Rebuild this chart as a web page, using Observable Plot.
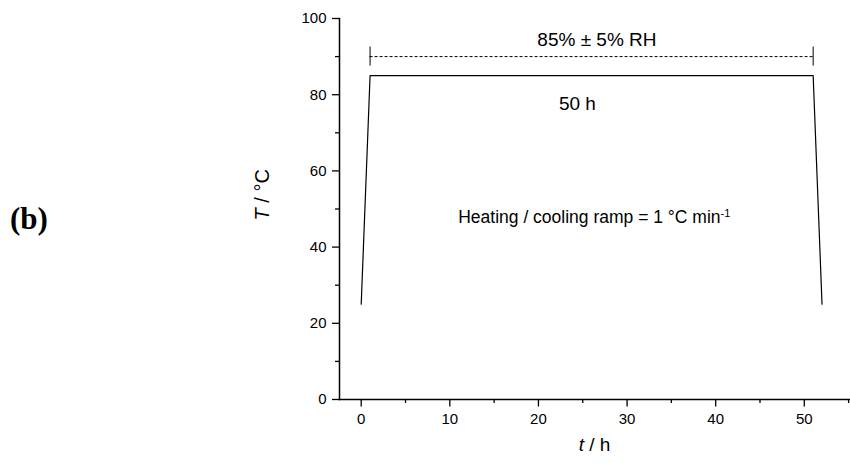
<!DOCTYPE html>
<html><head><meta charset="utf-8">
<script src="https://cdn.jsdelivr.net/npm/d3@7"></script>
<script src="https://cdn.jsdelivr.net/npm/@observablehq/plot@0.6"></script>
<style>
body{margin:0;background:#fff;font-family:"Liberation Sans",Arial,sans-serif}
#wrap{position:relative;width:850px;height:463px}
#panel{position:absolute;left:10px;top:203px;font-family:"Liberation Serif","Times New Roman",serif;font-weight:bold;font-size:31px;line-height:1}
svg text{font-family:"Liberation Sans",Arial,sans-serif}
svg g[aria-label="x-axis tick label"], svg g[aria-label="y-axis tick label"]{font-size:15px !important}
</style>
</head><body><div id="wrap"><div id="panel">(b)</div></div>
<script>
// Temperature profile
const time = [0, 1, 51, 52];
const temperature = [25, 85, 85, 25];
// Relative humidity span
const rhStart = 1, rhEnd = 51, rhLevel = 90, rhCapLow = 87.5, rhCapHigh = 92.5;
// Ticks
const xMajor = [0, 10, 20, 30, 40, 50];
const xMinor = [5, 15, 25, 35, 45, 55];
const yMajor = [0, 20, 40, 60, 80, 100];
const yMinor = [10, 30, 50, 70, 90];
// Annotation texts and their data anchors
const noteText = ["85% ± 5% RH", "50 h", "Heating / cooling ramp = 1 °C min-1"];
const noteT = [26.6, 24.4, 26.3];
const noteTemp = [94.4, 77.5, 47.8];
const noteSize = [19, 19, 17.5];

const profile = time.map((t, i) => ({t, T: temperature[i]}));
const notes = noteText.map((s, i) => ({s, t: noteT[i], T: noteTemp[i], size: noteSize[i]}));

const plot = Plot.plot({
  width: 850, height: 463,
  marginLeft: 339, marginRight: 1, marginTop: 18, marginBottom: 64,
  style: {fontFamily: "Liberation Sans, Arial, sans-serif", fontSize: "15px", color: "#000", background: "#fff"},
  x: {domain: [-2.45, 55.1]},
  y: {domain: [0, 100]},
  marks: [
    Plot.axisX({ticks: xMinor, tickSize: 4, text: null, strokeWidth: 1.3, label: null}),
    Plot.axisX({ticks: xMajor, tickSize: 7.5, tickPadding: 6, strokeWidth: 1.3, fontSize: 15, label: null}),
    Plot.axisY({ticks: yMinor, tickSize: 4, text: null, strokeWidth: 1.3, label: null}),
    Plot.axisY({ticks: yMajor, tickSize: 7, tickPadding: 6, strokeWidth: 1.3, fontSize: 15, label: null}),
    Plot.frame({anchor: "left", strokeWidth: 1.5}),
    Plot.frame({anchor: "bottom", strokeWidth: 1.5}),
    Plot.line(profile, {x: "t", y: "T", stroke: "#000", strokeWidth: 1.2}),
    Plot.ruleY([rhLevel], {x1: rhStart, x2: rhEnd, stroke: "#000", strokeWidth: 1, strokeDasharray: "3,2"}),
    Plot.ruleX([rhStart, rhEnd], {y1: rhCapLow, y2: rhCapHigh, stroke: "#000", strokeWidth: 1}),
    Plot.text(notes, {x: "t", y: "T", text: "s", fontSize: d => d.size, fill: "#000", textAnchor: "middle", className: "note"}),
    Plot.text(["t / h"], {frameAnchor: "bottom", dy: 51, fontSize: 19, fill: "#000", className: "xlabel"}),
    Plot.text(["T / °C"], {frameAnchor: "left", dx: -77, dy: 11.5, rotate: -90, fontSize: 20, fill: "#000", className: "ylabel"})
  ]
});
document.getElementById("wrap").appendChild(plot);

const svg = d3.select(plot);
svg.selectAll('g[aria-label="x-axis tick label"], g[aria-label="y-axis tick label"]').attr("font-size", 15);
function italicFirst(sel, first, rest) {
  sel.selectAll("text").each(function() {
    const t = d3.select(this);
    t.text(null);
    t.append("tspan").attr("font-style", "italic").text(first);
    t.append("tspan").text(rest);
  });
}
italicFirst(svg.select(".xlabel"), "t", " / h");
italicFirst(svg.select(".ylabel"), "T", " / °C");
svg.select(".note").selectAll("text").each(function() {
  const t = d3.select(this);
  const s = t.text();
  if (s.endsWith("min-1")) {
    t.text(null);
    t.append("tspan").text(s.slice(0, -2));
    t.append("tspan").attr("baseline-shift", "super").attr("font-size", "11px").text("-1");
  }
});
</script>
</body></html>
